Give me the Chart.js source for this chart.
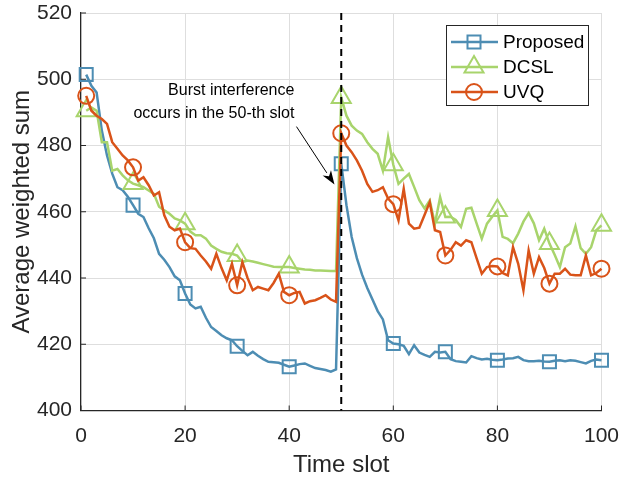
<!DOCTYPE html>
<html>
<head>
<meta charset="utf-8">
<script src="https://cdn.jsdelivr.net/npm/chart.js@4.4.1/dist/chart.umd.min.js"></script>
<style>
  html, body { margin: 0; padding: 0; background: #fff; }
  #wrap { width: 622px; height: 481px; }
</style>
</head>
<body>
<div id="wrap"><canvas id="chart" width="622" height="481"></canvas></div>
<script>
const slots = Array.from({ length: 100 }, (_, i) => i + 1);
const markerSlots = [1, 10, 20, 30, 40, 50, 60, 70, 80, 90, 100];

const proposed = [
  501.4, 498, 496, 484.5, 477, 471.5, 467.4, 466.5, 464.5, 462,
  459.4, 458.4, 455, 452, 447.3, 445.5, 443.3, 440.5, 439.3, 435.3,
  432, 430.8, 431.3, 428, 425.2, 424, 422.7, 421.8, 421.2, 419.4,
  418, 416.7, 417.7, 416.5, 415.5, 414.7, 414.6, 414.4, 413.8, 413.2,
  413.6, 414, 414.2, 413.5, 412.8, 412.5, 412.2, 411.7, 412.4, 474.5,
  462, 452.4, 446, 441, 437, 433.5, 430, 427.5, 421.2, 420.2,
  420, 419.5, 417, 419.7, 417.5, 416.8, 416.2, 417.7, 417.5, 417.7,
  415.5, 414.9, 414.7, 414.5, 416.4, 415.8, 415.4, 415.6, 415.3, 415.2,
  415.4, 415.7, 415.8, 416.2, 415.2, 414.9, 414.9, 415, 414.8, 414.7,
  415, 415.2, 414.9, 415.2, 415, 414.6, 414.2, 415, 415.4, 415.2
];

const dcsl = [
  490.5, 491.5, 490.5, 481, 481, 472.4, 472.9, 471, 469.5, 468.5,
  468, 467.4, 466.4, 465.4, 461.5, 460.4, 459.4, 458, 457.4, 456.4,
  454, 452.9, 452.9, 451.9, 449.8, 448.8, 447.9, 447.5, 447.3, 446.8,
  444.8, 445.3, 445, 444.6, 444.2, 443.8, 443.4, 443.3, 443.3, 443.3,
  443, 442.8, 442.6, 442.5, 442.3, 442.3, 442.2, 442.1, 442.1, 494.5,
  489, 486, 484.5, 483.5, 481, 479, 477.5, 472.4, 482.5, 474.2,
  468.4, 470, 471.4, 467.5, 463.5, 461, 463.4, 456.4, 464.4, 458.4,
  458.5, 457.5, 455.4, 460.9, 461.2, 456.5, 451.9, 456.4, 458.5, 460.4,
  452.4, 451.8, 450.5, 453.4, 457, 459.6, 456.5, 451.4, 454.9, 450.4,
  447, 443.3, 449.3, 450.4, 455.6, 449, 447.3, 449.3, 454.4, 455.9
];

const uvq = [
  495, 490.5, 489, 488, 486.5, 481, 479, 477, 475.5, 473.4,
  469.4, 470.4, 468, 464.9, 465.9, 458.9, 455.5, 454.4, 454.9, 450.8,
  449, 448.8, 446.8, 445, 442.8, 447.3, 443, 439.3, 444.3, 437.8,
  444.8, 440, 436.3, 437.3, 436.8, 436.3, 438.5, 441.3, 435.8, 434.8,
  435.5, 435.8, 432.3, 433, 433.3, 434, 434.8, 433.5, 432.8, 483.7,
  480, 478, 475.5, 472.4, 468.4, 466, 466.5, 467.4, 464, 462.3,
  457.4, 466.9, 456.4, 454.9, 455.2, 459, 462.9, 454.4, 453.9, 446.8,
  448.5, 450.8, 449.8, 451.4, 450.8, 446, 441.3, 443.3, 443.6, 443.5,
  441.5, 440.8, 449.3, 444.3, 436.3, 448.3, 441.3, 446.3, 443, 438.3,
  441.3, 441.3, 442.8, 441, 440.8, 440.8, 446.8, 440.8, 441.5, 442.8
];

const seriesNames = ['Proposed', 'DCSL', 'UVQ'];
const seriesColors = ['#4d8db3', '#a8d46c', '#d95319'];
const seriesMarkers = ['rect', 'triangle', 'circle'];
const markerSizes = [9.2, 11, 8];

const burstSlot = 50;
const noteLines = ['Burst interference', 'occurs in the 50-th slot'];
const noteAt = { x: 41, y1: 496.5, y2: 489.6 };
const arrowFrom = { x: 41.4, y: 485.7 };
const arrowTo = { x: 48.7, y: 468.2 };

const FONT = '"Liberation Sans", Arial, Helvetica, sans-serif';
const AXIS = '#262626';

function makeSet(i, values) {
  return {
    label: seriesNames[i],
    data: slots.map((s, k) => ({ x: s, y: values[k] })),
    borderColor: seriesColors[i],
    backgroundColor: 'rgba(0,0,0,0)',
    borderWidth: 2.5,
    pointStyle: seriesMarkers[i],
    pointRadius: ctx => markerSlots.includes(slots[ctx.dataIndex]) ? markerSizes[i] : 0,
    pointBorderWidth: 2,
    pointBorderColor: seriesColors[i],
    pointBackgroundColor: 'rgba(0,0,0,0)',
    tension: 0,
    clip: false,
    order: 3 - i
  };
}

// dashed line, annotation, inner ticks and the legend box
const extras = {
  id: 'extras',
  afterDatasetsDraw(chart) {
    const { ctx, chartArea: a, scales: { x, y } } = chart;
    ctx.save();

    // inner tick marks
    ctx.strokeStyle = AXIS;
    ctx.lineWidth = 1;
    x.ticks.forEach(t => {
      const px = x.getPixelForValue(t.value);
      ctx.beginPath(); ctx.moveTo(px, a.bottom); ctx.lineTo(px, a.bottom - 5); ctx.stroke();
    });
    y.ticks.forEach(t => {
      const py = y.getPixelForValue(t.value);
      ctx.beginPath(); ctx.moveTo(a.left, py); ctx.lineTo(a.left + 5, py); ctx.stroke();
    });

    // burst slot marker
    const bx = x.getPixelForValue(burstSlot);
    ctx.strokeStyle = '#000';
    ctx.lineWidth = 2;
    ctx.setLineDash([7, 5]);
    ctx.beginPath(); ctx.moveTo(bx, a.top); ctx.lineTo(bx, a.bottom); ctx.stroke();
    ctx.setLineDash([]);

    // note text
    ctx.fillStyle = '#000';
    ctx.font = '16px ' + FONT;
    ctx.textAlign = 'right';
    ctx.textBaseline = 'middle';
    const tx = x.getPixelForValue(noteAt.x);
    ctx.fillText(noteLines[0], tx, y.getPixelForValue(noteAt.y1));
    ctx.fillText(noteLines[1], tx, y.getPixelForValue(noteAt.y2));

    // arrow
    const x0 = x.getPixelForValue(arrowFrom.x), y0 = y.getPixelForValue(arrowFrom.y);
    const x1 = x.getPixelForValue(arrowTo.x), y1 = y.getPixelForValue(arrowTo.y);
    const ang = Math.atan2(y1 - y0, x1 - x0);
    const head = 14, wing = 5;
    const hx = x1 - head * Math.cos(ang), hy = y1 - head * Math.sin(ang);
    ctx.lineWidth = 1;
    ctx.beginPath(); ctx.moveTo(x0, y0); ctx.lineTo(hx, hy); ctx.stroke();
    ctx.beginPath();
    ctx.moveTo(x1, y1);
    ctx.lineTo(hx + wing * Math.sin(ang), hy - wing * Math.cos(ang));
    ctx.lineTo(hx + 4 * Math.cos(ang), hy + 4 * Math.sin(ang));
    ctx.lineTo(hx - wing * Math.sin(ang), hy + wing * Math.cos(ang));
    ctx.closePath();
    ctx.fill();

    // legend
    const lx = 446, ly = 25, lw = 142, lh = 80;
    ctx.fillStyle = '#fff';
    ctx.fillRect(lx, ly, lw, lh);
    ctx.strokeStyle = AXIS;
    ctx.lineWidth = 1;
    ctx.strokeRect(lx + 0.5, ly + 0.5, lw, lh);
    seriesNames.forEach((name, i) => {
      const cy = ly + 17 + i * 25;
      ctx.strokeStyle = seriesColors[i];
      ctx.lineWidth = 2.5;
      ctx.beginPath(); ctx.moveTo(lx + 5, cy); ctx.lineTo(lx + 52, cy); ctx.stroke();
      ctx.lineWidth = 2;
      ctx.fillStyle = 'rgba(0,0,0,0)';
      Chart.helpers.drawPoint(ctx, {
        pointStyle: seriesMarkers[i],
        radius: markerSizes[i],
        rotation: 0,
        borderWidth: 2
      }, lx + 28, cy);
      ctx.fillStyle = '#000';
      ctx.font = '19px ' + FONT;
      ctx.textAlign = 'left';
      ctx.textBaseline = 'middle';
      ctx.fillText(name, lx + 57, cy + 1);
    });
    ctx.restore();
  }
};

new Chart(document.getElementById('chart').getContext('2d'), {
  type: 'line',
  data: { datasets: [makeSet(0, proposed), makeSet(1, dcsl), makeSet(2, uvq)] },
  options: {
    responsive: false,
    animation: false,
    layout: { padding: { top: 12, right: 20.5, left: 0, bottom: 0 } },
    plugins: { legend: { display: false }, tooltip: { enabled: false } },
    scales: {
      x: {
        type: 'linear',
        min: 0, max: 100,
        afterFit: s => { s.height = 70.5; s.paddingLeft = 0; s.paddingRight = 0; },
        ticks: { stepSize: 20, color: AXIS, padding: 13, font: { family: FONT, size: 21 }, maxRotation: 0 },
        grid: { color: '#dedede', lineWidth: 1, drawTicks: false },
        border: { color: AXIS, width: 1.2 },
        title: { display: true, text: 'Time slot', color: AXIS, font: { family: FONT, size: 24 }, padding: { top: 0, bottom: 1 } }
      },
      y: {
        min: 400, max: 520,
        afterFit: s => { s.width = 81; s.paddingTop = 0; s.paddingBottom = 0; },
        ticks: { stepSize: 20, color: AXIS, padding: 9, font: { family: FONT, size: 21 } },
        grid: { color: '#dedede', lineWidth: 1, drawTicks: false },
        border: { color: AXIS, width: 1.2 },
        title: { display: true, text: 'Average weighted sum', color: AXIS, font: { family: FONT, size: 24 }, padding: { top: 8, bottom: 0 } }
      }
    }
  },
  plugins: [extras]
});
</script>
</body>
</html>
